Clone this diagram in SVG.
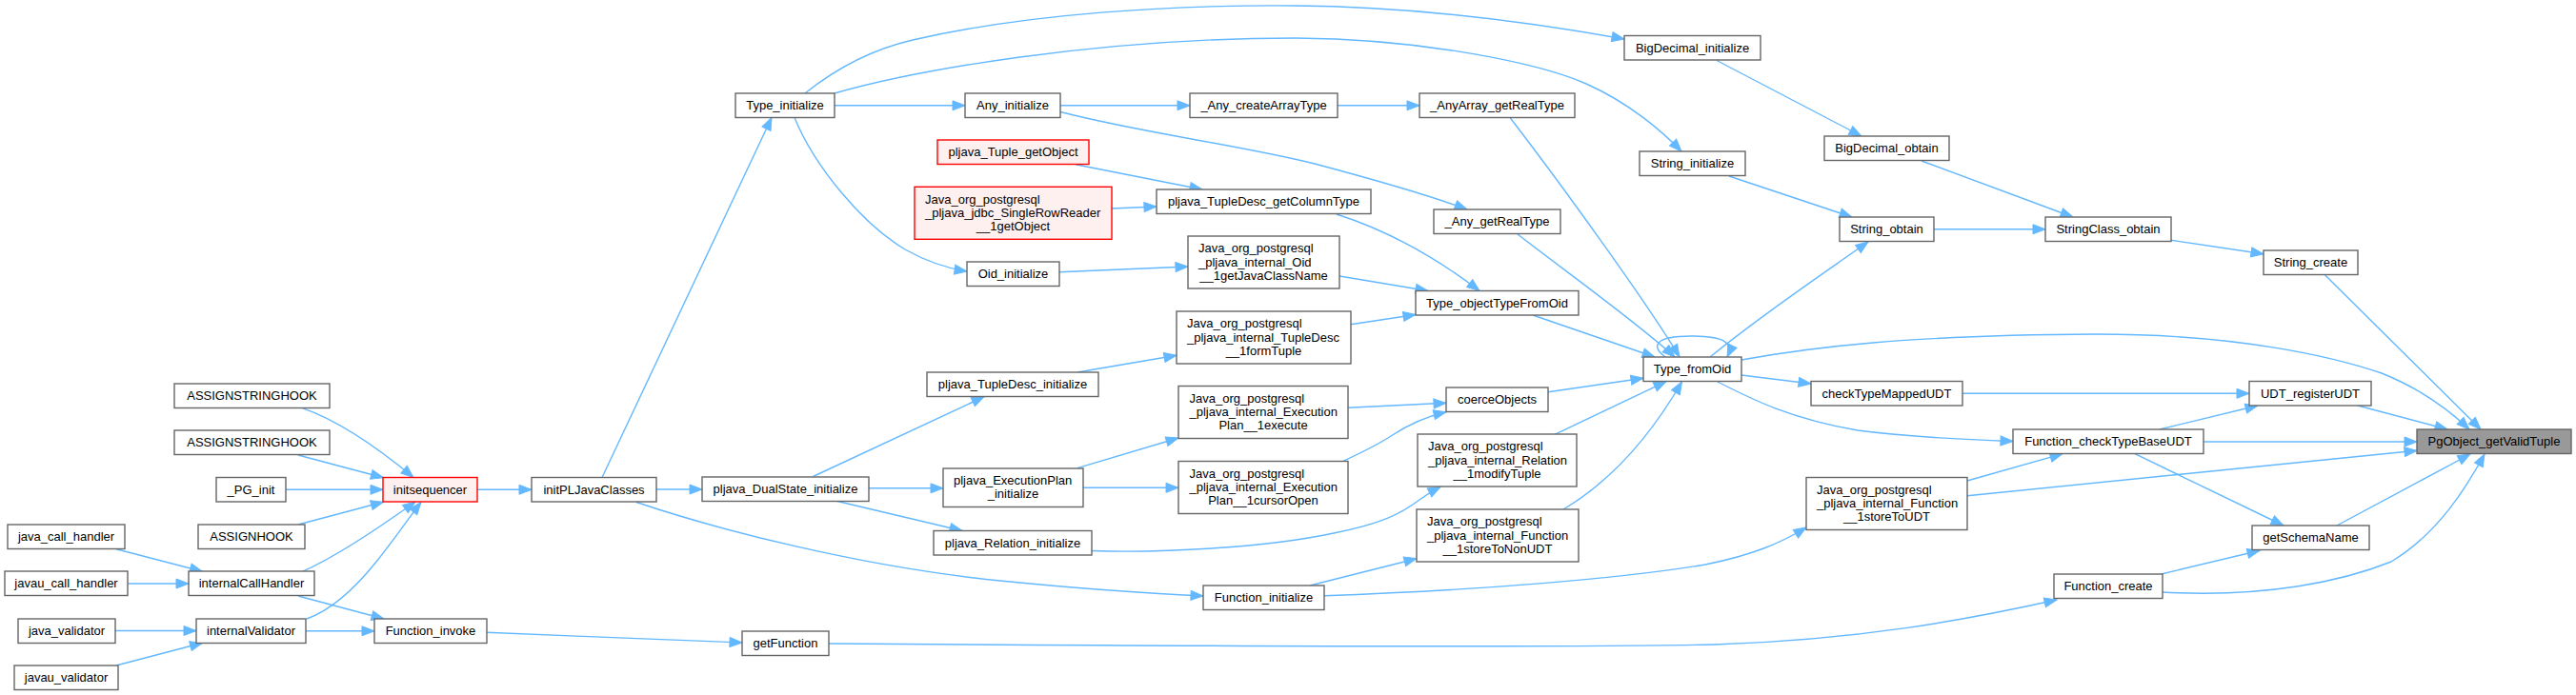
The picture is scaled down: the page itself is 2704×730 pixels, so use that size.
<svg xmlns="http://www.w3.org/2000/svg" width="2704" height="730" viewBox="0 0 2704 730">
<style>
.n rect{fill:#ffffff;stroke:#666666;stroke-width:1.4}
.red rect{fill:#fff0f0;stroke:#ff0000}
.cur rect{fill:#999999;stroke:#666666}
text{font-family:"Liberation Sans",Arial,Helvetica,sans-serif;font-size:13px;fill:#000000}
.m{text-anchor:middle}
.e path{fill:none;stroke:#63b8ff;stroke-width:1.4;marker-end:url(#ah)}
</style>
<defs>
<marker id="ah" markerUnits="userSpaceOnUse" markerWidth="16" markerHeight="12" refX="13" refY="5" orient="auto" viewBox="-1 -1 16 12">
<path d="M0,0 L13,5 L0,10 z" fill="#63b8ff" stroke="#63b8ff" stroke-width="1"/>
</marker>
</defs>
<rect width="2704" height="730" fill="#ffffff"/>
<g id="edges" class="e">
<path d="M845,98 C880,70 915,52 958,42 C1080,14 1230,5 1360,6 C1480,7 1600,22 1705,41"/>
<path d="M876,98 C960,74 1150,40 1360,40 C1500,41 1620,68 1665,88 C1710,108 1745,138 1765,159"/>
<path d="M876,110.8 L1013,110.8"/>
<path d="M834,123.5 C855,175 905,235 950,262 C975,276 995,282 1015,285"/>
<path d="M1113,110.8 L1249,110.8"/>
<path d="M1113,117.5 C1200,140 1300,152 1380,172 C1440,188 1500,205 1540,220"/>
<path d="M1404,110.8 L1490,110.8"/>
<path d="M1585,123.5 C1640,195 1730,320 1763,375"/>
<path d="M1593,246 C1650,290 1720,340 1758,375"/>
<path d="M1129,172.7 L1262,199"/>
<path d="M1167,219 L1214,217"/>
<path d="M1403,225 C1450,240 1500,265 1553,305.5"/>
<path d="M1112,285.7 L1247,280"/>
<path d="M1406,290 L1499,305.5"/>
<path d="M1418,340.7 L1486,330.5"/>
<path d="M1609,331 L1737,375"/>
<path d="M1748,375 C1733,364 1736,353 1775,353 C1810,353 1820,360 1813,375"/>
<path d="M1795,375 C1850,330 1910,290 1961,254"/>
<path d="M1815,185 L1944,228"/>
<path d="M1802,63.5 L1954,143"/>
<path d="M2017,169 L2176,228"/>
<path d="M2030,240.8 L2147,240.8"/>
<path d="M2279,252.3 L2376,266.7"/>
<path d="M2440.5,288.7 L2604,451"/>
<path d="M1828,378 C1900,365 2000,352 2200,351 C2350,351 2450,375 2500,392 C2540,408 2570,430 2592,451"/>
<path d="M1828,394 L1901,403"/>
<path d="M2060,413.3 L2361,413.3"/>
<path d="M2475,426 L2569,451"/>
<path d="M2267,451 L2370,426"/>
<path d="M2313,464 L2537,464"/>
<path d="M1803,401 C1840,420 1880,440 1950,452 C2010,460 2070,462 2113,463.5"/>
<path d="M2065,505 L2165,476.7"/>
<path d="M2065,520.7 L2537,473.3"/>
<path d="M2241,476.7 L2397,552"/>
<path d="M2453,552 L2593,477"/>
<path d="M2270,622 C2380,628 2460,610 2510,590 C2560,560 2590,510 2608,477"/>
<path d="M2268.6,603 L2372,578.3"/>
<path d="M870,676 C1300,679 1650,680 1800,677 C1950,672 2060,652 2159,630"/>
<path d="M511,664.3 C600,668 700,672 779,675"/>
<path d="M313,626 L403,650"/>
<path d="M321,662.8 L393,662.8"/>
<path d="M317.4,600.3 C350,586 390,560 436,527"/>
<path d="M322,650 C350,640 375,615 395,590 C415,565 432,540 442,527.5"/>
<path d="M317.4,428.7 C350,440 390,465 434,501.5"/>
<path d="M313,478 L402.4,501.7"/>
<path d="M300,514.3 L402,514.3"/>
<path d="M313,551 L402.4,527.3"/>
<path d="M122,576.7 L212.5,600.3"/>
<path d="M134.4,613 L198,613"/>
<path d="M121,662.5 L206,662.5"/>
<path d="M122,699 L212.5,675.3"/>
<path d="M501,514.3 L558,514.3"/>
<path d="M632,501.5 L810,123.5"/>
<path d="M689,514 L737,514"/>
<path d="M668,527.5 C750,555 900,595 1050,610 C1150,620 1220,624 1263,626"/>
<path d="M853.5,500.5 L1033,416.7"/>
<path d="M912,512.8 L990,512.8"/>
<path d="M877,526 L1010,557.5"/>
<path d="M1131,391 L1235,373.3"/>
<path d="M1131,491.7 L1237,460"/>
<path d="M1137,512.3 L1237,512.3"/>
<path d="M1415,428.3 L1518,423.3"/>
<path d="M1410,484.3 C1430,475 1445,468 1460,458 C1478,446 1495,438 1518,432.7"/>
<path d="M1625,411.7 L1725,397.3"/>
<path d="M1146,578.5 C1220,581 1330,575 1400,560 C1450,550 1470,540 1490,525 C1498,519 1505,515 1512,511.3"/>
<path d="M1632,456.3 L1749,400.7"/>
<path d="M1375,615 L1487,586.7"/>
<path d="M1390,625.7 C1550,620 1700,608 1790,593 C1840,583 1870,570 1896,554"/>
<path d="M1641,535 C1700,500 1740,445 1765.5,401"/>
</g>
<g id="PgObject_getValidTuple" class="n cur"><rect x="2537" y="451" width="162" height="25.5"/><text class="m" x="2618" y="468.3">PgObject_getValidTuple</text></g>
<g id="String_create" class="n"><rect x="2376" y="263" width="99" height="25.5"/><text class="m" x="2425.5" y="280.3">String_create</text></g>
<g id="UDT_registerUDT" class="n"><rect x="2361" y="400.5" width="128" height="25.5"/><text class="m" x="2425" y="417.8">UDT_registerUDT</text></g>
<g id="getSchemaName" class="n"><rect x="2364" y="552" width="123" height="25.5"/><text class="m" x="2425.5" y="569.3">getSchemaName</text></g>
<g id="Function_create" class="n"><rect x="2156" y="603" width="114" height="25.5"/><text class="m" x="2213" y="620.3">Function_create</text></g>
<g id="Function_checkTypeBaseUDT" class="n"><rect x="2113" y="451" width="200" height="25.5"/><text class="m" x="2213" y="468.3">Function_checkTypeBaseUDT</text></g>
<g id="StringClass_obtain" class="n"><rect x="2147" y="228" width="132" height="25.5"/><text class="m" x="2213" y="245.3">StringClass_obtain</text></g>
<g id="checkTypeMappedUDT" class="n"><rect x="1901" y="400.5" width="159" height="25.5"/><text class="m" x="1980.5" y="417.8">checkTypeMappedUDT</text></g>
<g id="storeToUDT" class="n"><rect x="1896" y="501.5" width="169" height="55"/><text x="1907" y="518.7">Java_org_postgresql</text><text x="1907" y="533">_pljava_internal_Function</text><text class="m" x="1980.5" y="547.3">__1storeToUDT</text></g>
<g id="String_obtain" class="n"><rect x="1931" y="228" width="99" height="25.5"/><text class="m" x="1980.5" y="245.3">String_obtain</text></g>
<g id="BigDecimal_obtain" class="n"><rect x="1915" y="143" width="131" height="25.5"/><text class="m" x="1980.5" y="160.3">BigDecimal_obtain</text></g>
<g id="Type_fromOid" class="n"><rect x="1725" y="375" width="103" height="25.5"/><text class="m" x="1776.5" y="392.3">Type_fromOid</text></g>
<g id="String_initialize" class="n"><rect x="1721" y="159" width="111" height="25.5"/><text class="m" x="1776.5" y="176.3">String_initialize</text></g>
<g id="BigDecimal_initialize" class="n"><rect x="1705" y="37.5" width="143" height="25.5"/><text class="m" x="1776.5" y="54.8">BigDecimal_initialize</text></g>
<g id="AnyArray_getRealType" class="n"><rect x="1490" y="98" width="163" height="25.5"/><text class="m" x="1571.5" y="115.3">_AnyArray_getRealType</text></g>
<g id="Any_getRealType" class="n"><rect x="1505" y="220" width="133" height="25.5"/><text class="m" x="1571.5" y="237.3">_Any_getRealType</text></g>
<g id="Type_objectTypeFromOid" class="n"><rect x="1486" y="305.5" width="171" height="25.5"/><text class="m" x="1571.5" y="322.8">Type_objectTypeFromOid</text></g>
<g id="coerceObjects" class="n"><rect x="1518" y="407" width="107" height="25.5"/><text class="m" x="1571.5" y="424.3">coerceObjects</text></g>
<g id="modifyTuple" class="n"><rect x="1488" y="456" width="167" height="55"/><text x="1499" y="473.2">Java_org_postgresql</text><text x="1499" y="487.5">_pljava_internal_Relation</text><text class="m" x="1571.5" y="501.8">__1modifyTuple</text></g>
<g id="storeToNonUDT" class="n"><rect x="1487" y="535" width="170" height="55"/><text x="1498" y="552.2">Java_org_postgresql</text><text x="1498" y="566.5">_pljava_internal_Function</text><text class="m" x="1572" y="580.8">__1storeToNonUDT</text></g>
<g id="Function_initialize" class="n"><rect x="1263" y="615" width="127" height="25.5"/><text class="m" x="1326.5" y="632.3">Function_initialize</text></g>
<g id="Any_createArrayType" class="n"><rect x="1249" y="98" width="155" height="25.5"/><text class="m" x="1326.5" y="115.3">_Any_createArrayType</text></g>
<g id="getColumnType" class="n"><rect x="1214" y="199" width="225" height="25.5"/><text class="m" x="1326.5" y="216.3">pljava_TupleDesc_getColumnType</text></g>
<g id="getJavaClassName" class="n"><rect x="1247" y="248" width="159" height="55"/><text x="1258" y="265.2">Java_org_postgresql</text><text x="1258" y="279.5">_pljava_internal_Oid</text><text class="m" x="1326.5" y="293.8">__1getJavaClassName</text></g>
<g id="formTuple" class="n"><rect x="1235" y="327" width="183" height="55"/><text x="1246" y="344.2">Java_org_postgresql</text><text x="1246" y="358.5">_pljava_internal_TupleDesc</text><text class="m" x="1326.5" y="372.8">__1formTuple</text></g>
<g id="execute" class="n"><rect x="1237" y="405.5" width="178" height="55"/><text x="1248.5" y="422.7">Java_org_postgresql</text><text x="1248.5" y="437">_pljava_internal_Execution</text><text class="m" x="1326" y="451.3">Plan__1execute</text></g>
<g id="cursorOpen" class="n"><rect x="1237" y="484.5" width="178" height="55"/><text x="1248.5" y="501.7">Java_org_postgresql</text><text x="1248.5" y="516">_pljava_internal_Execution</text><text class="m" x="1326" y="530.3">Plan__1cursorOpen</text></g>
<g id="Any_initialize" class="n"><rect x="1013" y="98" width="100" height="25.5"/><text class="m" x="1063" y="115.3">Any_initialize</text></g>
<g id="pljava_Tuple_getObject" class="n red"><rect x="984" y="147" width="159" height="25.5"/><text class="m" x="1063.5" y="164.3">pljava_Tuple_getObject</text></g>
<g id="SingleRowReader" class="n red"><rect x="960" y="196.3" width="207" height="55"/><text x="971" y="213.5">Java_org_postgresql</text><text x="971" y="227.8">_pljava_jdbc_SingleRowReader</text><text class="m" x="1063.5" y="242.1">__1getObject</text></g>
<g id="Oid_initialize" class="n"><rect x="1015" y="275" width="97" height="25.5"/><text class="m" x="1063.5" y="292.3">Oid_initialize</text></g>
<g id="pljava_TupleDesc_initialize" class="n"><rect x="973" y="391" width="180" height="25.5"/><text class="m" x="1063" y="408.3">pljava_TupleDesc_initialize</text></g>
<g id="pljava_ExecutionPlan_initialize" class="n"><rect x="990" y="492" width="147" height="40.5"/><text x="1001" y="508.8">pljava_ExecutionPlan</text><text class="m" x="1063.5" y="523.1">_initialize</text></g>
<g id="pljava_Relation_initialize" class="n"><rect x="980" y="557.5" width="166" height="25.5"/><text class="m" x="1063" y="574.8">pljava_Relation_initialize</text></g>
<g id="Type_initialize" class="n"><rect x="772" y="98" width="104" height="25.5"/><text class="m" x="824" y="115.3">Type_initialize</text></g>
<g id="pljava_DualState_initialize" class="n"><rect x="737" y="501" width="175" height="25.5"/><text class="m" x="824.5" y="518.3">pljava_DualState_initialize</text></g>
<g id="getFunction" class="n"><rect x="779" y="663" width="91" height="25.5"/><text class="m" x="824.5" y="680.3">getFunction</text></g>
<g id="initPLJavaClasses" class="n"><rect x="558" y="501.5" width="131" height="25.5"/><text class="m" x="623.5" y="518.8">initPLJavaClasses</text></g>
<g id="initsequencer" class="n red"><rect x="402" y="501.5" width="99" height="25.5"/><text class="m" x="451.5" y="518.8">initsequencer</text></g>
<g id="Function_invoke" class="n"><rect x="393" y="650" width="118" height="25.5"/><text class="m" x="452" y="667.3">Function_invoke</text></g>
<g id="ASSIGNSTRINGHOOK_1" class="n"><rect x="183" y="403" width="163" height="25.5"/><text class="m" x="264.5" y="420.3">ASSIGNSTRINGHOOK</text></g>
<g id="ASSIGNSTRINGHOOK_2" class="n"><rect x="183" y="452" width="163" height="25.5"/><text class="m" x="264.5" y="469.3">ASSIGNSTRINGHOOK</text></g>
<g id="PG_init" class="n"><rect x="227" y="501.5" width="73" height="25.5"/><text class="m" x="263.5" y="518.8">_PG_init</text></g>
<g id="ASSIGNHOOK" class="n"><rect x="208" y="551" width="112" height="25.5"/><text class="m" x="264" y="568.3">ASSIGNHOOK</text></g>
<g id="internalCallHandler" class="n"><rect x="198" y="600" width="132" height="25.5"/><text class="m" x="264" y="617.3">internalCallHandler</text></g>
<g id="internalValidator" class="n"><rect x="206" y="650" width="115" height="25.5"/><text class="m" x="263.5" y="667.3">internalValidator</text></g>
<g id="java_call_handler" class="n"><rect x="8" y="551" width="123" height="25.5"/><text class="m" x="69.5" y="568.3">java_call_handler</text></g>
<g id="javau_call_handler" class="n"><rect x="5" y="600" width="129" height="25.5"/><text class="m" x="69.5" y="617.3">javau_call_handler</text></g>
<g id="java_validator" class="n"><rect x="19" y="650" width="102" height="25.5"/><text class="m" x="70" y="667.3">java_validator</text></g>
<g id="javau_validator" class="n"><rect x="15" y="699" width="109" height="25.5"/><text class="m" x="69.5" y="716.3">javau_validator</text></g>
</svg>
